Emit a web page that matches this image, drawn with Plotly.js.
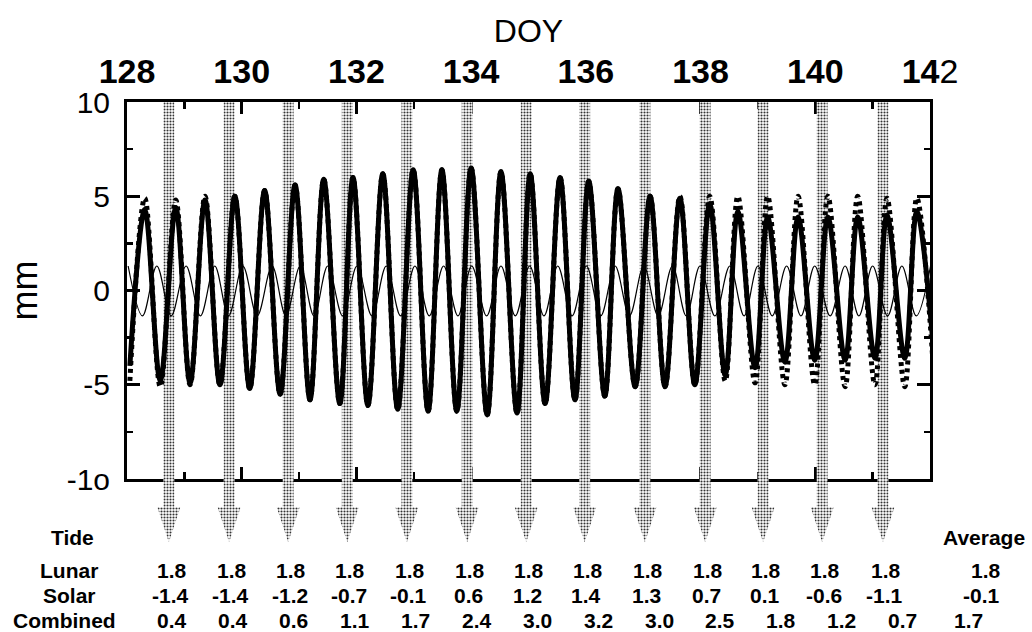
<!DOCTYPE html>
<html><head><meta charset="utf-8">
<script src="https://cdn.plot.ly/plotly-3.0.1.min.js"></script>
<style>html,body{margin:0;padding:0;background:#fff}#chart{width:1032px;height:632px}</style>
</head><body><div id="chart"></div>
<script>
// ---------------- data ----------------
const xTickVals = [128, 130, 132, 134, 136, 138, 140, 142];
const xTickText = ['128', '130', '132', '134', '136', '138', '140', '14<span style="font-weight:normal">2</span>'];
const xMinorVals = [129, 131, 133, 135, 137, 139, 141];
const yTickVals = [-10, -5, 0, 5, 10];
const yTickText = ['-1o', '-5', '0', '5', '10'];
const yMinorVals = [-7.5, -2.5, 2.5, 7.5];

// thick solid curve: successive troughs / peaks (DOY, mm)
const solidT = [128.05, 128.31, 128.58, 128.85, 129.10, 129.36, 129.62, 129.88, 130.14, 130.40,
                130.67, 130.93, 131.19, 131.43, 131.71, 131.94, 132.20, 132.46, 132.72, 132.99,
                133.25, 133.49, 133.75, 134.00, 134.28, 134.52, 134.80, 135.03, 135.29, 135.55,
                135.81, 136.05, 136.33, 136.56, 136.86, 137.12, 137.38, 137.64, 137.90, 138.16,
                138.43, 138.65, 138.95, 139.17, 139.47, 139.70, 139.99, 140.22, 140.52, 140.74,
                141.04, 141.25, 141.56, 141.77, 142.08];
const solidV = [-4.0, 4.3, -4.8, 4.4, -4.9, 4.8, -5.0, 5.0, -5.2, 5.3,
                -5.5, 5.6, -5.8, 5.9, -6.0, 6.0, -6.1, 6.2, -6.3, 6.4,
                -6.4, 6.4, -6.4, 6.5, -6.6, 6.3, -6.5, 6.2, -6.0, 6.0,
                -5.8, 5.8, -5.6, 5.4, -5.1, 5.0, -5.1, 4.9, -5.0, 4.6,
                -4.5, 4.2, -4.1, 3.9, -3.8, 3.9, -3.7, 3.9, -3.7, 3.9,
                -3.6, 4.0, -3.6, 4.2, -3.8];
// thick dotted curve: same instants
const dottedV = [-4.8, 4.9, -5.1, 4.8, -5.0, 5.0, -5.0, 5.0, -5.2, 5.3,
                 -5.5, 5.6, -5.8, 5.9, -6.0, 6.0, -6.1, 6.2, -6.3, 6.4,
                 -6.4, 6.4, -6.4, 6.5, -6.6, 6.3, -6.5, 6.2, -6.0, 6.0,
                 -5.8, 5.8, -5.6, 5.4, -5.1, 5.0, -5.1, 5.0, -5.0, 5.0,
                 -4.8, 5.0, -4.9, 5.0, -5.0, 5.0, -5.0, 5.0, -5.1, 5.0,
                 -5.0, 4.9, -5.1, 4.9, -5.0];
// thin curve: successive peaks / troughs
const thinT = [128.02, 128.27, 128.52, 128.77, 129.03, 129.28, 129.53, 129.77, 130.02, 130.27,
               130.53, 130.77, 131.02, 131.26, 131.50, 131.76, 132.01, 132.27, 132.52, 132.77,
               133.02, 133.27, 133.52, 133.77, 134.01, 134.27, 134.52, 134.77, 135.02, 135.27,
               135.51, 135.76, 136.01, 136.26, 136.51, 136.76, 137.01, 137.26, 137.51, 137.75,
               137.99, 138.25, 138.51, 138.76, 139.00, 139.25, 139.50, 139.75, 139.99, 140.26,
               140.52, 140.76, 141.00, 141.26, 141.51, 141.76, 142.01];
const thinV = [1.3, -1.35, 1.3, -1.35, 1.3, -1.35, 1.3, -1.35, 1.3, -1.35,
               1.3, -1.35, 1.3, -1.35, 1.3, -1.35, 1.3, -1.35, 1.3, -1.35,
               1.3, -1.35, 1.3, -1.35, 1.3, -1.35, 1.3, -1.35, 1.3, -1.35,
               1.3, -1.35, 1.3, -1.35, 1.3, -1.35, 1.3, -1.35, 1.3, -1.35,
               1.3, -1.35, 1.3, -1.35, 1.3, -1.35, 1.3, -1.35, 1.3, -1.35,
               1.3, -1.35, 1.3, -1.35, 1.3, -1.35, 1.3];

// arrow positions (DOY) and the table under them
const arrowDOY = [128.73, 129.78, 130.81, 131.84, 132.88, 133.93, 134.96, 135.98, 137.03, 138.08, 139.09, 140.12, 141.18];
const rowLabels = ['Tide', 'Lunar', 'Solar', 'Combined'];
const lunarVals = [1.8, 1.8, 1.8, 1.8, 1.8, 1.8, 1.8, 1.8, 1.8, 1.8, 1.8, 1.8, 1.8];
const solarVals = [-1.4, -1.4, -1.2, -0.7, -0.1, 0.6, 1.2, 1.4, 1.3, 0.7, 0.1, -0.6, -1.1];
const combinedVals = [0.4, 0.4, 0.6, 1.1, 1.7, 2.4, 3.0, 3.2, 3.0, 2.5, 1.8, 1.2, 0.7];
const averageLabel = 'Average';
const averageVals = [1.8, -0.1, 1.7];

// ---------------- layout constants ----------------
const W = 1032, H = 632;
const PL = 127, PR = 930, PT = 102, PB = 545;   // plot area (incl. arrow zone)
const FRAME_BOTTOM = 479;                          // bottom of the mm frame
const D0 = (PB - FRAME_BOTTOM) / (PB - PT);
const Y2MIN = 10 - 20 / (1 - D0);
const FONT = 'Liberation Sans, Arial, Helvetica, sans-serif';
const px2x = px => (px - PL) / (PR - PL);
const py2y = py => (PB - py) / (PB - PT);

const SHAFT_HW = 0.095, HEAD_HW = 0.2, SHAFT_END = -11.5, TIP = -13.35;

const traces = [];
// invisible anchor for the frame subplot
traces.push({x: [128], y: [0], xaxis: 'x', yaxis: 'y', mode: 'markers',
  marker: {opacity: 0}, hoverinfo: 'skip', showlegend: false});

arrowDOY.forEach(c => {
  traces.push({
    x: [c - SHAFT_HW, c + SHAFT_HW, c + SHAFT_HW, c + HEAD_HW, c, c - HEAD_HW, c - SHAFT_HW, c - SHAFT_HW],
    y: [10, 10, SHAFT_END, SHAFT_END, TIP, SHAFT_END, SHAFT_END, 10],
    xaxis: 'x2', yaxis: 'y2', mode: 'lines', line: {width: 0, color: 'rgba(0,0,0,0)'},
    fill: 'toself', fillcolor: 'rgba(0,0,0,0)',
    fillpattern: {shape: '.', fgcolor: '#333', bgcolor: '#ffffff', size: 3, solidity: 0.38},
    hoverinfo: 'skip', showlegend: false
  });
});

traces.push({x: thinT, y: thinV, xaxis: 'x2', yaxis: 'y2', mode: 'lines',
  line: {color: '#000', width: 1.2, shape: 'spline', smoothing: 1}, hoverinfo: 'skip', showlegend: false});
traces.push({x: solidT, y: dottedV, xaxis: 'x2', yaxis: 'y2', mode: 'lines',
  line: {color: '#000', width: 5, dash: '4px,4px', shape: 'spline', smoothing: 1}, hoverinfo: 'skip', showlegend: false});
traces.push({x: solidT, y: solidV, xaxis: 'x2', yaxis: 'y2', mode: 'lines',
  line: {color: '#000', width: 5, shape: 'spline', smoothing: 1}, hoverinfo: 'skip', showlegend: false});

// ---------------- table annotations ----------------
const ann = [];
const tfont = {family: FONT, size: 21, color: '#000'};
const rowY = [537, 570, 595, 620];
const labelX = [72, 69, 69, 64];
rowLabels.forEach((t, i) => ann.push({text: '<b>' + t + '</b>', xref: 'paper', yref: 'paper',
  x: px2x(labelX[i]), y: py2y(rowY[i]), showarrow: false, font: tfont, xanchor: 'center', yanchor: 'middle'}));
arrowDOY.forEach((c, i) => {
  ann.push({text: '<b>' + lunarVals[i].toFixed(1) + '</b>', xref: 'x2', yref: 'paper', x: c + 0.05,
    y: py2y(rowY[1]), showarrow: false, font: tfont, xanchor: 'center', yanchor: 'middle'});
  ann.push({text: '<b>' + solarVals[i].toFixed(1) + '</b>', xref: 'x2', yref: 'paper', x: c + 0.03,
    y: py2y(rowY[2]), showarrow: false, font: tfont, xanchor: 'center', yanchor: 'middle'});
  ann.push({text: '<b>' + combinedVals[i].toFixed(1) + '</b>', xref: 'paper', yref: 'paper', x: px2x(172 + 60.9 * i),
    y: py2y(rowY[3]), showarrow: false, font: tfont, xanchor: 'center', yanchor: 'middle'});
});
ann.push({text: '<b>' + averageLabel + '</b>', xref: 'paper', yref: 'paper', x: px2x(984), y: py2y(rowY[0]),
  showarrow: false, font: tfont, xanchor: 'center', yanchor: 'middle'});
const avgX = [986, 981, 968];
averageVals.forEach((v, i) => ann.push({text: '<b>' + v.toFixed(1) + '</b>', xref: 'paper', yref: 'paper',
  x: px2x(avgX[i]), y: py2y(rowY[i + 1]), showarrow: false, font: tfont, xanchor: 'center', yanchor: 'middle'}));

const layout = {
  width: W, height: H,
  margin: {l: PL, r: W - PR, t: PT, b: H - PB, pad: 0},
  paper_bgcolor: '#fff', plot_bgcolor: 'rgba(0,0,0,0)',
  showlegend: false,
  xaxis: {range: [128, 142], side: 'top', anchor: 'y', domain: [0, 1],
    showline: true, linewidth: 3, linecolor: '#000', mirror: 'allticks',
    ticks: 'inside', ticklen: 12, tickwidth: 3, tickcolor: '#000',
    tickmode: 'array', tickvals: xTickVals, ticktext: xTickText, ticklabelstandoff: 2,
    tickfont: {family: FONT, size: 34, color: '#000', weight: 'bold'},
    minor: {tickmode: 'array', tickvals: xMinorVals, ticks: 'inside', ticklen: 7, tickwidth: 2.5, tickcolor: '#000'},
    showgrid: false, zeroline: false, fixedrange: true, automargin: false,
    title: {text: 'DOY', font: {family: FONT, size: 32, color: '#000'}, standoff: 1}},
  yaxis: {range: [-10, 10], anchor: 'x', domain: [D0, 1],
    showline: true, linewidth: 3, linecolor: '#000', mirror: 'allticks',
    ticks: 'inside', ticklen: 13, tickwidth: 3, tickcolor: '#000',
    tickmode: 'array', tickvals: yTickVals, ticktext: yTickText, ticklabelstandoff: 8,
    tickfont: {family: FONT, size: 30, color: '#000'},
    minor: {tickmode: 'array', tickvals: yMinorVals, ticks: 'inside', ticklen: 6, tickwidth: 2.5, tickcolor: '#000'},
    showgrid: false, zeroline: false, fixedrange: true, automargin: false,
    title: {text: 'mm', font: {family: FONT, size: 36, color: '#000'}, standoff: 19}},
  xaxis2: {range: [128, 142], domain: [0, 1], anchor: 'y2', visible: false, fixedrange: true},
  yaxis2: {range: [Y2MIN, 10], domain: [0, 1], anchor: 'x2', visible: false, fixedrange: true},
  annotations: ann
};

Plotly.newPlot('chart', traces, layout, {staticPlot: true, displayModeBar: false});
</script>
</body></html>
